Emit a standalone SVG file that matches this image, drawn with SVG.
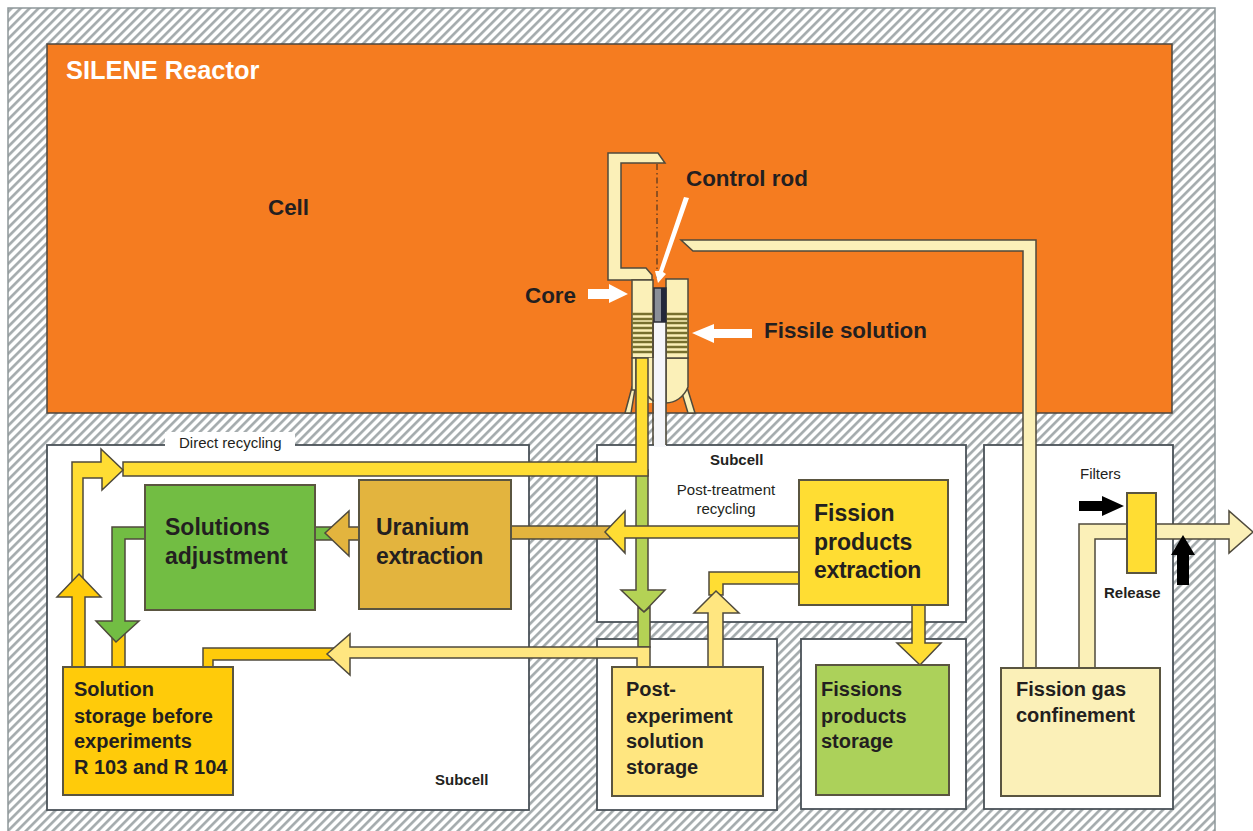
<svg xmlns="http://www.w3.org/2000/svg" width="1253" height="831" viewBox="0 0 1253 831">
<style>
.p{stroke:#4f4a3c;stroke-width:1.5;stroke-linejoin:miter}
.box{fill:#fff;stroke:#4a5258;stroke-width:1.8}
.n{stroke:#5a5540;stroke-width:2}
text{font-family:"Liberation Sans",Arial,sans-serif;fill:#231f20}
.b24{font-size:23px;font-weight:700}
.t{letter-spacing:-.3px}
.b22{font-size:22.4px;font-weight:700}
.b21{font-size:20px;font-weight:700}
.b14{font-size:15px;font-weight:700}
.r14{font-size:15px}
.cream{fill:#fbf0b8}.ly{fill:#ffe680}.y{fill:#ffdd33}.o{fill:#ffcb0a}.g{fill:#72bd43}.lg{fill:#b4d255}.u{fill:#e3b43e}
</style>
<defs>
<pattern id="hatch" width="6.364" height="6.364" patternUnits="userSpaceOnUse" patternTransform="rotate(45)">
<rect width="6.364" height="6.364" fill="#fff"/><rect width="2.6" height="6.364" fill="#a4abad"/>
</pattern>
</defs>
<rect width="1253" height="831" fill="#fff"/>
<g id="building">
<rect x="8" y="8" width="1207" height="830" fill="url(#hatch)" stroke="#8d9699" stroke-width="1.5"/>
<rect x="47" y="44" width="1125" height="369" fill="#f57c20" stroke="#4a4640" stroke-width="1.5"/>
</g>
<g id="subcells">
<rect class="box" x="47" y="445" width="482" height="365"/>
<rect class="box" x="597" y="445" width="369" height="177"/>
<rect class="box" x="597" y="639" width="180" height="171"/>
<rect class="box" x="801" y="639" width="165" height="170"/>
<rect class="box" x="984" y="445" width="189" height="364"/>
<rect x="165" y="432" width="130" height="25" fill="#fff"/>
<rect x="649" y="447" width="150" height="79" fill="#fff"/>
<rect x="1040" y="462" width="90" height="26" fill="#fff"/>
</g>
<g id="core">
<path class="p cream" d="M608 153H658L665 163H621V268H646L652 275V280H608Z"/>
<path class="p cream" d="M625 413L632 387L635 389L631 413Z"/>
<path class="p cream" d="M695 413L687 387L682 393L688 413Z"/>
<path class="p cream" d="M632 280H653V358H632Z"/>
<path class="p cream" d="M632 358V390H636V358ZM666 358V403C675 403 684 397 688 387V358Z"/>
<path class="p cream" d="M666 279H688V358H666Z"/>
<path fill="#fbf0b8" stroke="none" d="M648 358H666V403H648Z"/>
<path fill="none" stroke="#4f4a3c" stroke-width="1.4" d="M648 396C652 402 660 404 666 403"/>
<path fill="none" stroke="#77702f" stroke-width="2.4" d="M632 314H653M632 319H653M632 323H653M632 328H653M632 333H653M632 338H653M632 342H653M632 347H653M632 352H653M666 314H688M666 319H688M666 323H688M666 328H688M666 333H688M666 338H688M666 342H688M666 347H688M666 352H688"/>
<path fill="#f5f6fa" d="M654 322H666V447H654Z"/>
<path fill="none" stroke="#4f4a3c" stroke-width="1.6" d="M653 322V445M666 322V445"/>
<rect x="654" y="288" width="12" height="34" fill="#8a8f98" stroke="#2a2d36" stroke-width="1.5"/>
<rect x="661" y="288" width="5" height="34" fill="#23283a"/>
<path fill="none" stroke="#5a3a20" stroke-width="1.3" stroke-dasharray="6 3 1.5 3" d="M657 164V280"/>
<path fill="#fff" d="M684 197L689 198L663 272L666 274L658 283L655 271L659 271Z"/>
<path fill="#fff" d="M588 289H609V284L628 294L609 303V299H588Z"/>
<path fill="#fff" d="M752 329H714V324L692 333L714 343V338H752Z"/>
</g>
<g id="connectors">
<path class="p lg" d="M636 470V590H621L644 612L665 590H648V470Z"/>
<path class="p lg" d="M638 607V647H650V607L644 612Z"/>
<path class="p y" d="M123 462H636V358H648V476H123Z"/>
<path class="p y" d="M83 590V478H102V490L123 470L101 449V462H72V590Z"/>
<path class="p o" d="M72 667V597H57L79 574L101 597H85V667Z"/>
<path class="p o" d="M112 667V630H125V667Z"/>
<path class="p g" d="M150 527H112V621H96L116 642L139 621H125V539H150Z"/>
<path class="p o" d="M203 667V648H335V660H213V667Z"/>
<path class="p ly" d="M650 667V647H350V634L327 654L350 675V658H637V667Z"/>
<path class="p g" d="M310 527H332V540H310Z"/>
<path class="p u" d="M365 527H349V511L325 533L349 556V540H365Z"/>
<path class="p u" d="M505 526H610V539H505Z"/>
<path class="p y" d="M805 526H625V511L605 532L625 553V538H805Z"/>
<path class="p y" d="M805 572H709V595H723V584H805Z"/>
<path class="p ly" d="M708 667V613H694L716 591L739 613H723V667Z"/>
<path class="p y" d="M912 600V643H897L920 665L941 643H925V600Z"/>
<path class="p cream" d="M681 240H1036V672H1023V251H693Z"/>
<path class="p cream" d="M1079 672V524H1132V539H1095V672Z"/>
<path class="p cream" d="M1150 524H1229V511L1253 532L1229 553V539H1150Z"/>
</g>
<g id="filter">
<rect class="n y" x="1127" y="493" width="29" height="80"/>
<path fill="#000" d="M1079 501H1102V496L1124 506L1102 516V511H1079Z"/>
<path fill="#000" d="M1183 535L1195 555H1189V585H1177V555H1171Z"/>
</g>
<g id="solutions-adjustment"><rect class="n g" x="145" y="485" width="170" height="125"/><text class="b24" x="165" y="535">Solutions</text><text class="b24" x="165" y="564">adjustment</text></g>
<g id="uranium-extraction"><rect class="n u" x="359" y="480" width="152" height="129"/><text class="b24" x="376" y="535">Uranium</text><text class="b24 t" x="376" y="564">extraction</text></g>
<g id="fission-products-extraction"><rect class="n y" x="799" y="480" width="149" height="125"/><text class="b24" x="814" y="521">Fission</text><text class="b24" x="814" y="550">products</text><text class="b24 t" x="814" y="578">extraction</text></g>
<g id="solution-storage"><rect class="n o" x="63" y="667" width="170" height="128"/><text class="b21" x="74" y="696">Solution</text><text class="b21" x="74" y="723">storage before</text><text class="b21" x="74" y="748">experiments</text><text class="b21" x="74" y="774">R 103 and R 104</text></g>
<g id="post-experiment-storage"><rect class="n ly" x="612" y="667" width="151" height="129"/><text class="b21" x="626" y="696">Post-</text><text class="b21" x="626" y="723">experiment</text><text class="b21" x="626" y="748">solution</text><text class="b21" x="626" y="774">storage</text></g>
<g id="fissions-products-storage"><rect class="n" fill="#acd15a" x="816" y="665" width="133" height="130"/><text class="b21" x="821" y="696">Fissions</text><text class="b21" x="821" y="723">products</text><text class="b21" x="821" y="748">storage</text></g>
<g id="fission-gas-confinement"><rect class="n cream" x="1001" y="668" width="159" height="128"/><text class="b21" x="1016" y="696">Fission gas</text><text class="b21" x="1016" y="722">confinement</text></g>
<g id="labels">
<text x="66" y="79" font-size="25.4" font-weight="700" style="fill:#fff">SILENE Reactor</text>
<text class="b22" x="268" y="215">Cell</text>
<text class="b22" x="686" y="186">Control rod</text>
<text class="b22" x="525" y="303">Core</text>
<text class="b22" x="764" y="338">Fissile solution</text>
<text class="r14" x="179" y="448">Direct recycling</text>
<text class="b14" x="710" y="465">Subcell</text>
<text class="b14" x="435" y="785">Subcell</text>
<text class="r14" x="726" y="495" text-anchor="middle">Post-treatment</text>
<text class="r14" x="726" y="514" text-anchor="middle">recycling</text>
<text class="r14" x="1080" y="479">Filters</text>
<text class="b14" x="1104" y="598">Release</text>
</g>
</svg>
